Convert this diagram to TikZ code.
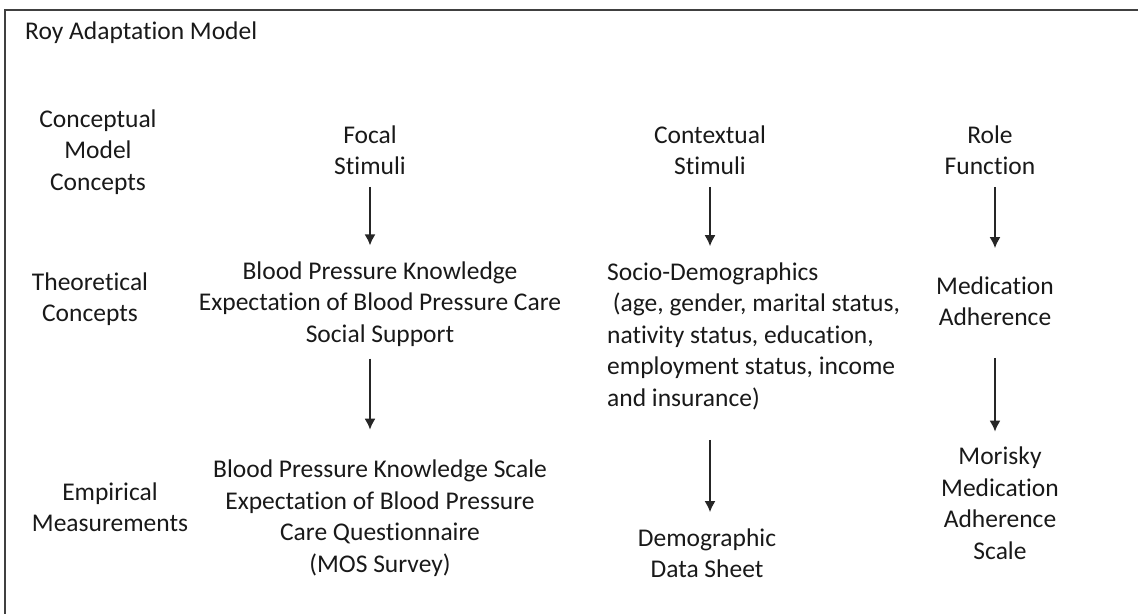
\documentclass[tikz,border=0pt]{standalone}
\usepackage{fontspec}
\setmainfont[Ligatures={NoCommon}]{Carlito}
\usetikzlibrary{arrows.meta}
\usepackage{xcolor}

\begin{document}
\begin{tikzpicture}[
  x=1pt,y=-1pt,
  font=\fontsize{25.5}{31.5}\selectfont,
  every node/.style={align=center,inner sep=0pt},
  label/.style={text=black!90},
  leftText/.style={align=left,anchor=west,text=black!90},
  frame/.style={line width=2pt,black!75},
  flow/.style={-{Latex[length=11pt,width=11pt]},line width=1.6pt,black!85}]

  \useasboundingbox (0,0) rectangle (1138,614);

  % outer frame (only top and left edges show)
  \draw [frame] (1138,10) -- (5,10) -- (5,614);

  \node[leftText] (title) at (25,33) {Roy Adaptation Model};

  % row labels
  \node[label] (concept) at (98,152) {Conceptual\\Model\\Concepts};
  \node[label] (theory) at (90,299) {Theoretical\\Concepts};
  \node[label] (empiric) at (110,507) {Empirical\\Measurements};

  % conceptual model concepts
  \node[label] (focal) at (370,150) {Focal\\Stimuli};
  \node[label] (context) at (710,150) {Contextual\\Stimuli};
  \node[label] (role) at (990,150) {Role\\Function};

  % theoretical concepts
  \node[label] (bpk) at (380,304) {Blood Pressure Knowledge\\Expectation of Blood Pressure Care\\Social Support};
  \node[leftText] (socio) at (607,336) {Socio-Demographics\\\ (age, gender, marital status,\\nativity status, education,\\employment status, income\\and insurance)};
  \node[label] (medAdh) at (995,301) {Medication\\Adherence};

  % empirical measurements
  \node[label] (bpkScale) at (380,518) {Blood Pressure Knowledge Scale\\Expectation of Blood Pressure\\Care Questionnaire\\(MOS Survey)};
  \node[label] (demog) at (707,553) {Demographic\\Data Sheet};
  \node[label] (morisky) at (1000,503) {Morisky\\Medication\\Adherence\\Scale};

  % arrows
  \draw [flow] ([yshift=-12pt]focal.south) -- ([yshift=16pt]focal.south |- bpk.north);
  \draw [flow] ([yshift=-12pt]bpk.south -| focal) -- ([yshift=30pt]focal.south |- bpkScale.north);
  \draw [flow] ([yshift=-12pt]context.south) -- ([yshift=16pt]context.south |- socio.north);
  \draw [flow] ([yshift=-30pt]context.south |- socio.south) -- ([yshift=16pt]context.south |- demog.north);
  \draw [flow] ([yshift=-12pt]role.south -| medAdh) -- ([yshift=28pt]medAdh.north);
  \draw [flow] ([yshift=-32pt]medAdh.south) -- ([yshift=15pt]medAdh.south |- morisky.north);

\end{tikzpicture}
\end{document}
